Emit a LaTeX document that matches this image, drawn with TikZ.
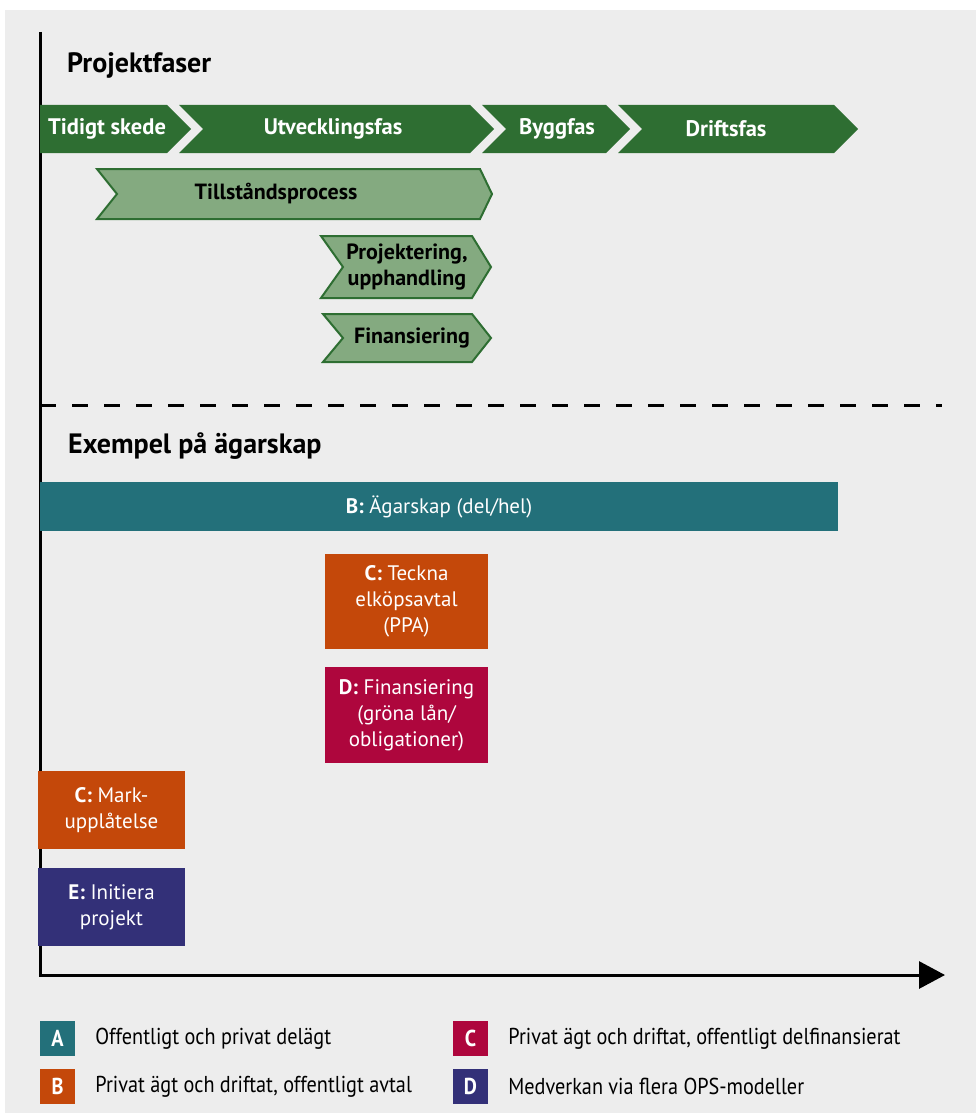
\documentclass[tikz,border=0pt]{standalone}
\usepackage{fontspec}
\setmainfont{PT Sans}
\newfontfamily\condfont[FakeStretch=0.88]{PT Sans}
\usetikzlibrary{arrows.meta, positioning}
\definecolor{bgGray}{HTML}{EDEDED}
\definecolor{phaseGreen}{HTML}{2E6E32}
\definecolor{lightGreen}{HTML}{84AA80}
\definecolor{ownTeal}{HTML}{23707A}
\definecolor{ownOrange}{HTML}{C4480A}
\definecolor{ownRed}{HTML}{AE063D}
\definecolor{ownBlue}{HTML}{333078}

\begin{document}
\begin{tikzpicture}[x=1pt, y=-1pt,
    phase/.style={fill=phaseGreen},
    subphase/.style={fill=lightGreen, draw=phaseGreen, line width=2pt},
    phasetext/.style={text=white, inner sep=0pt, font=\bfseries\fontsize{22.5}{26}\selectfont},
    subtext/.style={inner sep=0pt, align=center, font=\bfseries\fontsize{22}{26}\selectfont},
    ownbox/.style={text=white, inner sep=0pt, align=center, font=\fontsize{21}{26}\selectfont},
    keybox/.style={minimum size=35pt, inner sep=0pt, text=white, font=\condfont\bfseries\fontsize{23}{24}\selectfont},
    keytext/.style={anchor=west, inner sep=0pt, font=\condfont\fontsize{23}{24}\selectfont},
    heading/.style={anchor=base west, inner sep=0pt, font=\bfseries\fontsize{28}{32}\selectfont}]
    \fill[white] (0,0) rectangle (976,1113);
    \fill[bgGray] (5,10) rectangle (976,1113);

    \coordinate (axistop) at (40,32);
    \coordinate (origin) at (40,975);
    \coordinate (axisend) at (945,975);
    \coordinate (dashstart) at (40,405);
    \coordinate (dashend) at (942,405);

    \draw[line width=3pt, -{Triangle[length=26pt, width=27pt]}] (axistop)--(origin)--(axisend);
    \draw[line width=3pt, dash pattern=on 16pt off 16pt] (dashstart)--(dashend);

    \node[heading] (phasehead) at (67,73) {Projektfaser};
    \node[heading] (ownhead) at (68,453) {Exempel på ägarskap};

    % projektfaser
    \fill[phase] (40,105)--(167,105)--(191,129)--(167,153)--(40,153)--cycle;
    \fill[phase] (179,105)--(470,105)--(494,129)--(470,153)--(179,153)--(203,129)--cycle;
    \fill[phase] (482,105)--(606,105)--(630,129)--(606,153)--(482,153)--(506,129)--cycle;
    \fill[phase] (618,105)--(834,105)--(858,129)--(834,153)--(618,153)--(642,129)--cycle;
    \node[phasetext] (early) at (107,129) {Tidigt skede};
    \node[phasetext] (develop) at (333,129) {Utvecklingsfas};
    \node[phasetext] (build) at (557,129) {Byggfas};
    \node[phasetext] (operate) at (726,129) {Driftsfas};

    \draw[subphase] (97,169)--(480,169)--(492,194)--(480,219)--(97,219)--(117,194)--cycle;
    \draw[subphase] (321,236)--(472,236)--(491,267)--(472,298)--(321,298)--(343,267)--cycle;
    \draw[subphase] (323,314)--(472,314)--(491,338)--(472,362)--(323,362)--(343,338)--cycle;
    \node[subtext] (permit) at (276,194) {Tillståndsprocess};
    \node[subtext] (design) at (407,267) {Projektering,\\upphandling};
    \node[subtext] (finance) at (412,338) {Finansiering};

    % ägarskap
    \node[ownbox, fill=ownTeal, minimum width=798pt, minimum height=49pt] (share) at (439,506.5) {\textbf{B:} Ägarskap (del/hel)};
    \node[ownbox, fill=ownOrange, minimum width=163pt, minimum height=95pt] (ppa) at (406.5,601.5) {\textbf{C:} Teckna\\elköpsavtal\\(PPA)};
    \node[ownbox, fill=ownRed, minimum width=163pt, minimum height=96pt, below=18pt of ppa] (loan) {\textbf{D:} Finansiering\\(gröna lån/\\obligationer)};
    \node[ownbox, fill=ownOrange, minimum width=147pt, minimum height=78pt] (land) at (111.5,810) {\textbf{C:} Mark-\\upplåtelse};
    \node[ownbox, fill=ownBlue, minimum width=147pt, minimum height=78pt, below=19pt of land] (start) {\textbf{E:} Initiera\\projekt};

    % legend
    \node[keybox, fill=ownTeal] (keyA) at (57.5,1038.5) {A};
    \node[keybox, fill=ownOrange, below=13pt of keyA] (keyB) {B};
    \node[keybox, fill=ownRed] (keyC) at (470.5,1038.5) {C};
    \node[keybox, fill=ownBlue, below=13pt of keyC] (keyD) {D};
    \node[keytext, right=20pt of keyA] (textA) {Offentligt och privat delägt};
    \node[keytext, right=20pt of keyB] (textB) {Privat ägt och driftat, offentligt avtal};
    \node[keytext, right=20pt of keyC] (textC) {Privat ägt och driftat, offentligt delfinansierat};
    \node[keytext, right=20pt of keyD] (textD) {Medverkan via flera OPS-modeller};
\end{tikzpicture}
\end{document}
